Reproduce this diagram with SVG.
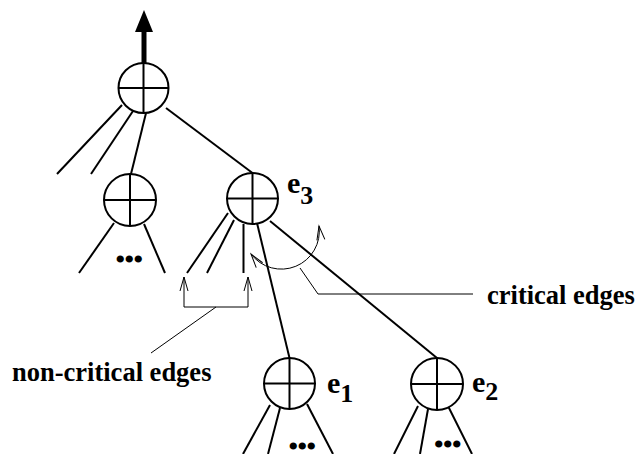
<svg xmlns="http://www.w3.org/2000/svg" width="639" height="454" viewBox="0 0 639 454">
<style>
.n circle{fill:#fff;stroke:#000;stroke-width:2}
.n path{stroke:#000;stroke-width:2;fill:none}
.e{stroke:#000;stroke-width:2;fill:none}
.t{stroke:#000;stroke-width:1;fill:none}
.lbl{font-family:"Liberation Serif","Times New Roman",serif;font-weight:bold;fill:#000}
.dots{font-family:"Liberation Serif","Times New Roman",serif;font-weight:bold;font-size:26px;letter-spacing:2.5px;fill:#000;stroke:#000;stroke-width:3;stroke-linejoin:round}
</style>
<defs>
<marker id="open" viewBox="-16 -6 18 12" markerWidth="18" markerHeight="12" refX="0" refY="0" orient="auto-start-reverse" markerUnits="userSpaceOnUse">
<path d="M-14,-4 L0,0 L-14,4" fill="none" stroke="#000" stroke-width="1"/>
</marker>
</defs>
<g id="connectors">
<path class="e" d="M122,105 L57,174"/>
<path class="e" d="M133,111 L91,174"/>
<path class="e" d="M146,113 L131,174"/>
<path class="e" d="M166,108 L252.5,173"/>
<path class="e" d="M114,223 L79,273"/>
<path class="e" d="M144,224 L165,273"/>
<path class="e" d="M228,213 L187,273"/>
<path class="e" d="M234,220 L207,273"/>
<path class="e" d="M243.5,224 L243.5,273"/>
<path class="e" d="M257,223 L289.5,358"/>
<path class="e" d="M270,221 L437,358"/>
<path class="e" d="M270,405 L243,454"/>
<path class="e" d="M280,408 L268,454"/>
<path class="e" d="M307,404 L333,454"/>
<path class="e" d="M418,406 L394,454"/>
<path class="e" d="M428,409 L420,454"/>
<path class="e" d="M448,406 L472,454"/>
<path d="M144,64 L144,30" stroke="#000" stroke-width="5" fill="none"/>
<path d="M135,32 L153,32 L144,10 Z" fill="#000"/>
<path class="t" d="M251,254 A38,38 0 0,0 319,226" marker-start="url(#open)" marker-end="url(#open)"/>
<path class="t" d="M300,268 L318,294 L473,294"/>
<path class="t" d="M184,307 L184,277" marker-end="url(#open)"/>
<path class="t" d="M248,307 L248,277" marker-end="url(#open)"/>
<path class="t" d="M184,307 L248,307"/>
<path class="t" d="M216,307 L151,353"/>
</g>
<g id="root" class="n">
<circle cx="143.5" cy="88" r="25"/>
<path d="M143.5,63 V113 M118.5,88 H168.5"/>
</g>
<g id="left" class="n">
<circle cx="130" cy="200" r="26"/>
<path d="M130,174 V226 M104,200 H156"/>
<text class="dots" x="117" y="261">...</text>
</g>
<g id="e3" class="n">
<circle cx="252.5" cy="198.5" r="25.5"/>
<path d="M252.5,173 V224 M227,198.5 H278"/>
<text class="lbl" x="287" y="193" font-size="30">e<tspan font-size="26" dy="11">3</tspan></text>
</g>
<g id="e1" class="n">
<circle cx="289.5" cy="383.5" r="25.5"/>
<path d="M289.5,358 V409 M264,383.5 H315"/>
<text class="lbl" x="327" y="393" font-size="30">e<tspan font-size="26" dy="9">1</tspan></text>
<text class="dots" x="290" y="448.3">...</text>
</g>
<g id="e2" class="n">
<circle cx="437" cy="384" r="26"/>
<path d="M437,358 V410 M411,384 H463"/>
<text class="lbl" x="472" y="392" font-size="30">e<tspan font-size="26" dy="8">2</tspan></text>
<text class="dots" x="435.5" y="446">...</text>
</g>
<g id="labels">
<text class="lbl" x="487" y="304" font-size="26.5">critical edges</text>
<text class="lbl" x="12" y="381" font-size="26.5">non-critical edges</text>
</g>
</svg>
